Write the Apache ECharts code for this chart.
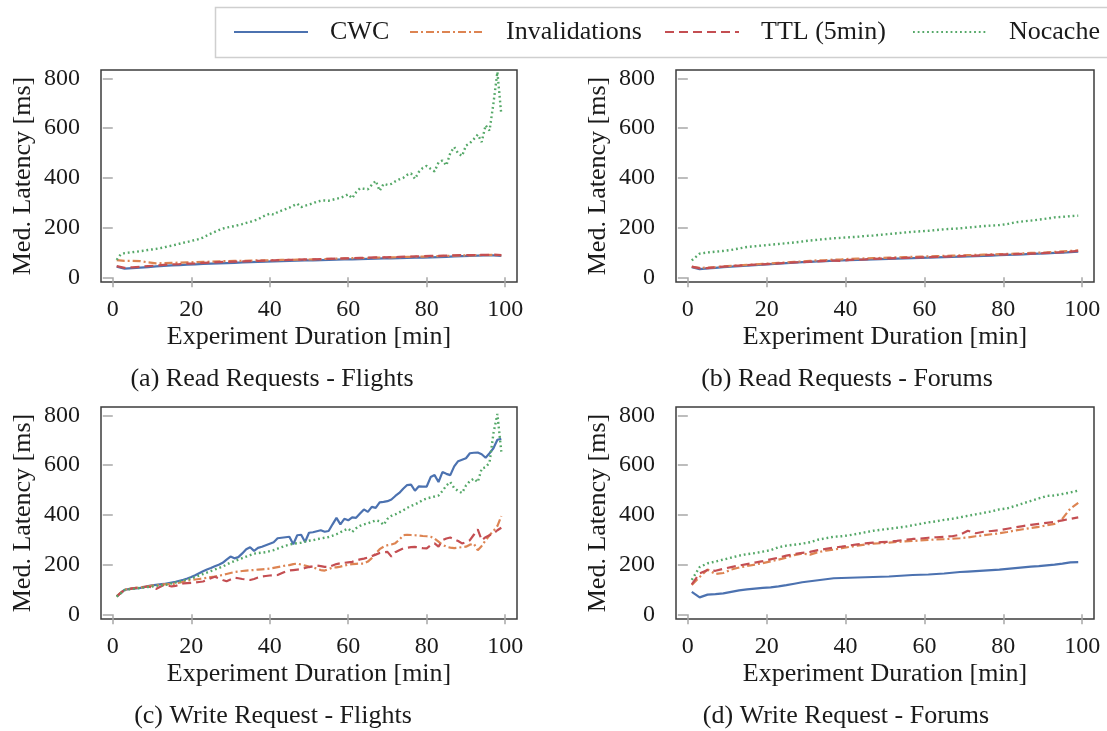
<!DOCTYPE html>
<html>
<head>
<meta charset="utf-8">
<title>Median latency over experiment duration</title>
<script src="https://cdn.jsdelivr.net/npm/echarts@6/dist/echarts.min.js"></script>
<style>
  html, body { margin: 0; padding: 0; background: #fff; }
  #chart { width: 1107px; height: 731px; }
</style>
</head>
<body>
<div id="chart"></div>
<script>
// Sampling minutes: every minute for the noisy runs, every other minute for smooth ones
const minutes = Array.from({ length: 99 }, (_, i) => i + 1);
const oddMinutes = Array.from({ length: 50 }, (_, i) => 2 * i + 1);

const xTickValues = [0, 20, 40, 60, 80, 100];
const yTickValues = [0, 200, 400, 600, 800];

const seriesNames = ['CWC', 'Invalidations', 'TTL (5min)', 'Nocache'];
const captions = [
  '(a) Read Requests - Flights',
  '(b) Read Requests - Forums',
  '(c) Write Request - Flights',
  '(d) Write Request - Forums'
];

// (a) Read Requests - Flights
const readFlightsCwc = [43,35,37,39,41,44,46,48,49,51,52,54,55,56,57,58,60,61,62,63,64,65,66,67,68,68,69,70,71,72,72,73,74,75,76,76,77,78,79,79,80,81,82,84,85,86,87,88,88,86];
const readFlightsInval = [69,66,66,65,60,56,57,58,59,60,61,62,63,64,65,66,66,67,68,68,69,70,70,71,71,72,73,74,75,76,77,77,78,79,80,80,81,82,83,83,84,85,86,87,88,88,89,89,90,88];
const readFlightsTtl = [45,38,40,42,45,47,50,52,53,55,56,58,59,61,62,63,64,65,66,67,68,69,70,71,72,72,73,74,75,76,77,78,79,80,80,81,82,83,84,85,86,86,87,88,89,89,90,90,91,89];
const readFlightsNocache = [70,92,97,99,101,103,105,107,110,112,114,117,120,124,127,131,135,139,142,146,150,154,160,168,176,183,190,196,200,203,206,210,214,219,223,228,233,242,250,256,252,262,268,274,280,288,296,282,288,292,298,304,308,309,308,312,316,320,326,334,318,342,358,356,354,372,388,348,376,372,376,386,394,400,412,418,396,424,440,448,436,426,462,470,450,500,524,498,488,530,540,556,574,544,612,590,700,826,655];

// (b) Read Requests - Forums
const readForumsCwc = [41,33,36,38,41,43,45,47,49,51,53,55,57,59,61,62,64,65,67,68,69,70,71,72,73,74,75,76,77,78,79,80,81,82,83,84,85,86,87,89,90,91,92,94,95,96,98,99,101,103];
const readForumsInval = [42,38,39,41,44,46,48,50,52,54,56,58,60,62,64,66,68,69,71,72,74,75,76,77,78,79,80,81,82,83,84,85,86,87,88,89,90,91,92,93,94,95,96,98,99,100,102,104,106,108];
const readForumsTtl = [43,36,37,40,43,45,47,49,51,52,54,56,58,60,61,63,64,66,67,66,70,71,72,74,75,76,77,78,79,80,81,82,83,84,85,86,87,89,90,91,92,93,94,95,96,98,99,101,103,106];
const readForumsNocache = [68,95,100,103,106,110,116,122,125,128,131,134,137,140,144,148,151,154,157,159,161,163,166,168,171,174,177,180,183,185,187,190,193,195,197,200,203,206,208,210,214,221,225,228,232,236,241,243,246,248];

// (c) Write Request - Flights
const writeFlightsCwc = [72,84,98,101,103,104,106,109,113,116,118,120,122,125,128,131,135,139,144,150,157,165,173,180,186,193,199,207,220,232,225,230,245,262,270,255,267,272,278,284,290,306,308,310,312,282,318,320,291,328,330,334,338,332,335,362,388,362,384,378,390,388,405,422,412,432,428,450,452,455,462,476,488,505,520,522,497,515,514,514,552,560,532,572,565,560,595,616,622,628,648,650,651,644,630,648,668,702,706];
const writeFlightsInval = [72,86,99,102,104,106,108,110,112,115,117,119,120,121,122,124,127,131,136,138,140,142,144,147,150,152,155,158,162,166,170,172,174,176,177,178,180,181,182,184,187,190,193,196,198,202,204,200,196,192,189,183,178,176,182,188,189,192,196,200,202,203,204,204,212,226,245,262,272,278,281,286,300,318,320,319,318,317,315,314,312,304,292,280,272,268,266,268,270,272,280,284,258,275,298,318,335,355,395];
const writeFlightsTtl = [72,86,98,101,104,106,108,110,112,108,102,110,118,116,112,114,120,124,125,126,128,130,132,138,145,151,145,138,133,140,147,145,142,140,138,142,148,152,154,156,157,158,165,172,176,178,180,182,186,190,193,196,194,191,190,196,202,205,207,209,211,216,221,224,228,234,240,247,250,251,232,250,258,265,268,270,271,268,266,265,278,285,272,298,305,309,302,295,285,290,298,320,342,298,310,318,325,338,348];
const writeFlightsNocache = [71,84,97,100,102,104,106,108,110,112,114,116,118,120,124,128,132,136,140,144,150,156,162,168,174,180,186,192,200,208,214,220,226,232,238,244,246,248,250,254,258,264,270,276,280,284,286,288,292,296,298,302,305,308,311,316,322,330,338,345,331,346,356,362,366,372,378,374,360,384,396,402,410,418,428,436,442,450,460,466,470,474,478,496,518,532,508,496,488,518,536,546,532,586,592,610,728,806,654];

// (d) Write Request - Forums
const writeForumsCwc = [90,68,79,81,84,90,96,100,103,106,108,112,117,123,129,133,137,141,145,146,147,148,149,150,151,152,154,156,158,159,160,162,164,167,170,172,174,176,178,180,183,186,189,192,194,197,200,204,209,210];
const writeForumsInval = [118,150,180,162,166,180,188,194,200,206,213,220,228,238,244,240,250,256,260,266,271,276,281,284,286,288,291,293,295,297,299,301,302,304,306,309,314,318,322,326,331,337,342,347,352,358,364,385,425,448];
const writeForumsTtl = [120,165,178,175,183,190,196,202,208,214,221,228,236,242,247,251,258,263,268,272,277,281,285,288,290,292,295,300,303,305,308,310,312,314,320,336,326,332,335,338,344,350,355,360,364,368,372,378,384,390];
const writeForumsNocache = [138,190,205,212,220,228,236,242,246,252,258,270,276,280,284,290,300,306,312,314,318,324,330,336,340,344,348,352,358,364,370,374,380,384,390,396,402,408,414,422,426,436,446,456,466,476,478,484,490,498];

const panels = [
  { x: [oddMinutes, oddMinutes, oddMinutes, minutes], values: [readFlightsCwc, readFlightsInval, readFlightsTtl, readFlightsNocache] },
  { x: [oddMinutes, oddMinutes, oddMinutes, oddMinutes], values: [readForumsCwc, readForumsInval, readForumsTtl, readForumsNocache] },
  { x: [minutes, minutes, minutes, minutes], values: [writeFlightsCwc, writeFlightsInval, writeFlightsTtl, writeFlightsNocache] },
  { x: [oddMinutes, oddMinutes, oddMinutes, oddMinutes], values: [writeForumsCwc, writeForumsInval, writeForumsTtl, writeForumsNocache] }
];

const FONT = "'Liberation Serif', 'DejaVu Serif', serif";
const TEXT_COLOR = '#1a1a1a';
const TICK_FONT_SIZE = 24;
const TEXT_FONT_SIZE = 26;

const lineStyles = [
  { color: '#4c72b0', width: 2.2, type: 'solid' },
  { color: '#dd8452', width: 2.2, type: [8, 3, 2, 3] },
  { color: '#c44e52', width: 2.2, type: [9, 5] },
  { color: '#55a868', width: 2.4, type: [1.8, 2.9] }
];

const grids = [
  { left: 101, top: 70, width: 416, height: 212 },
  { left: 676, top: 70, width: 418, height: 212 },
  { left: 101, top: 407, width: 416, height: 212 },
  { left: 676, top: 407, width: 418, height: 212 }
].map(g => Object.assign({}, g, { show: true, borderColor: '#3c3c3c', borderWidth: 1.5, backgroundColor: 'transparent', containLabel: false }));

const tickStyle = { show: true, inside: false, length: 10, lineStyle: { color: '#a8a8a8', width: 1.5 } };
const tickLabelStyle = { fontFamily: FONT, fontSize: TICK_FONT_SIZE, color: TEXT_COLOR };
const nameStyle = { fontFamily: FONT, fontSize: TEXT_FONT_SIZE, color: TEXT_COLOR };

const xAxes = grids.map((g, i) => ({
  type: 'value', gridIndex: i, min: -3, max: 103,
  axisLine: { show: false }, splitLine: { show: false },
  axisTick: Object.assign({}, tickStyle, { customValues: xTickValues }),
  axisLabel: Object.assign({}, tickLabelStyle, { customValues: xTickValues, margin: 16 }),
  name: 'Experiment Duration [min]', nameLocation: 'middle', nameGap: 42,
  nameTextStyle: nameStyle
}));

const yAxes = grids.map((g, i) => ({
  type: 'value', gridIndex: i, min: -19, max: 834,
  axisLine: { show: false }, splitLine: { show: false },
  axisTick: Object.assign({}, tickStyle, { customValues: yTickValues }),
  axisLabel: Object.assign({}, tickLabelStyle, { customValues: yTickValues, margin: 21 }),
  name: 'Med. Latency [ms]', nameLocation: 'middle', nameGap: 65, nameRotate: 90,
  nameTextStyle: nameStyle
}));

const series = [];
panels.forEach((p, gi) => {
  seriesNames.forEach((name, si) => {
    series.push({
      name: name, type: 'line', xAxisIndex: gi, yAxisIndex: gi,
      data: p.x[si].map((m, k) => [m, p.values[si][k]]),
      symbol: 'none', showSymbol: false, smooth: false,
      lineStyle: lineStyles[si], itemStyle: { color: lineStyles[si].color },
      emphasis: { disabled: true }, z: 2 + si
    });
  });
});

// One legend per entry so each sits at its own place inside the shared frame
const legendLefts = [233, 409, 664, 912];
const legends = seriesNames.map((name, i) => ({
  data: [name], left: legendLefts[i], top: 19, padding: 0,
  itemWidth: 74, itemHeight: 14, selectedMode: false,
  itemStyle: { opacity: 0 },
  textStyle: { fontFamily: FONT, fontSize: TEXT_FONT_SIZE, color: TEXT_COLOR, padding: [0, 0, 0, 17] }
}));

const captionPos = [[272, 379], [847, 379], [273, 716], [846, 716]];
const graphics = [
  { type: 'rect', shape: { x: 215.5, y: 7.5, width: 900, height: 50 },
    style: { fill: 'none', stroke: '#cfcfcf', lineWidth: 1.5 }, silent: true }
].concat(captions.map((c, i) => ({
  type: 'text', x: captionPos[i][0], y: captionPos[i][1], silent: true,
  style: { text: c, align: 'center', verticalAlign: 'middle', fontFamily: FONT, fontSize: TEXT_FONT_SIZE, fill: TEXT_COLOR }
})));

const chart = echarts.init(document.getElementById('chart'), null, { renderer: 'canvas' });
chart.setOption({
  animation: false,
  backgroundColor: '#ffffff',
  grid: grids,
  xAxis: xAxes,
  yAxis: yAxes,
  legend: legends,
  graphic: graphics,
  series: series
});
</script>
</body>
</html>
